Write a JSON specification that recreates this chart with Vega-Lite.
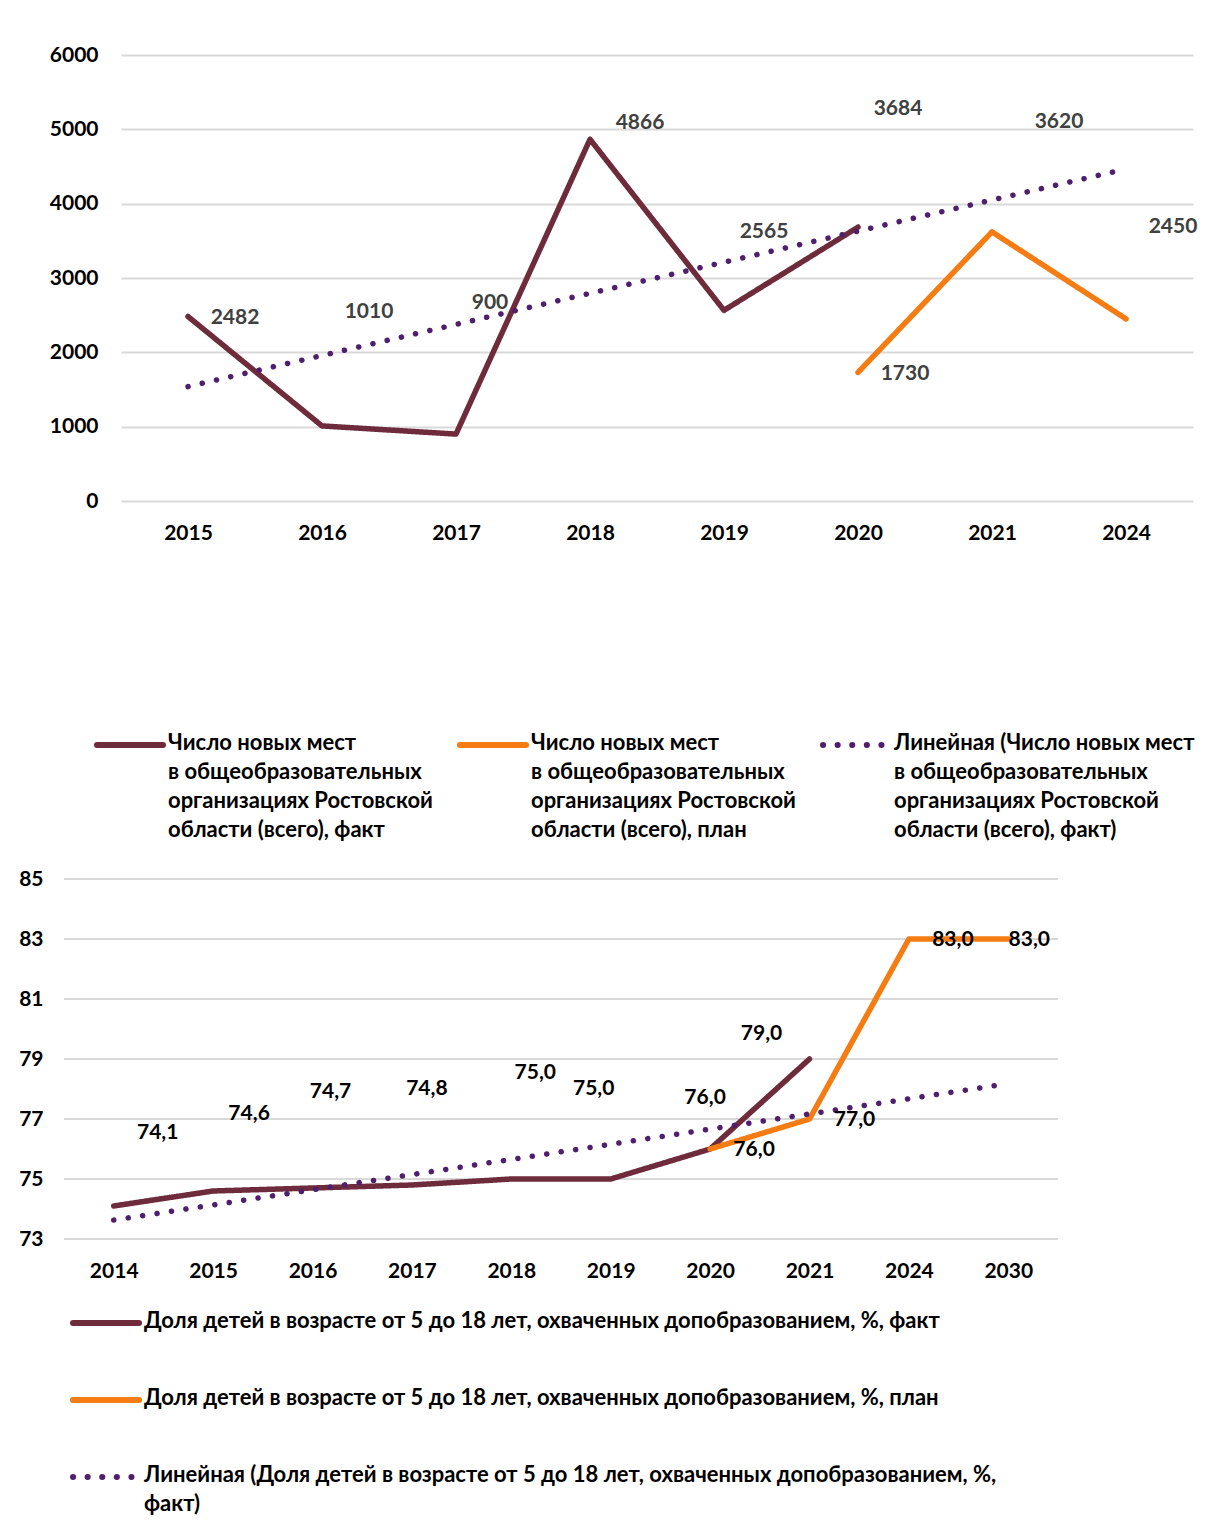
{
  "$schema": "https://vega.github.io/schema/vega-lite/v6.json",
  "padding": {"left": 18, "top": 44, "right": 0, "bottom": 0},
  "columns": 1,
  "spacing": 27,
  "resolve": {"scale": {"color": "independent", "strokeDash": "independent"}, "legend": {"color": "independent"}},
  "config": {
    "font": "Lato",
    "view": {"stroke": null},
    "locale": {"number": {"decimal": ",", "thousands": "", "grouping": [3], "currency": ["", ""]}},
    "text": {"fontSize": 21, "fontWeight": "bold", "color": "#404040", "font": "Lato"},
    "axis": {"labelFont": "Lato", "labelFontSize": 21, "labelFontWeight": "bold", "labelColor": "#000000", "title": null, "ticks": false, "gridColor": "#D9D9D9", "gridWidth": 2, "domain": false},
    "legend": {"labelFont": "Lato", "labelFontSize": 22, "labelFontWeight": "bold", "labelColor": "#000000", "symbolType": "stroke", "symbolSize": 4356, "symbolStrokeWidth": 6, "labelOffset": 2, "labelLimit": 1100, "padding": 0, "title": null}
  },
  "concat": [
    {
      "width": 1072,
      "height": 446,
      "data": {"values": [
        {"s": "fact", "year": "2015", "value": 2482},
        {"s": "fact", "year": "2016", "value": 1010},
        {"s": "fact", "year": "2017", "value": 900},
        {"s": "fact", "year": "2018", "value": 4866},
        {"s": "fact", "year": "2019", "value": 2565},
        {"s": "fact", "year": "2020", "value": 3684},
        {"s": "plan", "year": "2020", "value": 1730},
        {"s": "plan", "year": "2021", "value": 3620},
        {"s": "plan", "year": "2024", "value": 2450},
        {"s": "trend", "year": "2015", "value": 1539},
        {"s": "trend", "year": "2024", "value": 4467}
      ]},
      "encoding": {
        "x": {"field": "year", "type": "ordinal", "scale": {"type": "point", "padding": 0.5, "domain": ["2015", "2016", "2017", "2018", "2019", "2020", "2021", "2024"]}, "axis": {"labelAngle": 0, "labelPadding": 21, "grid": false}},
        "y": {"field": "value", "type": "quantitative", "scale": {"domain": [0, 6000]}, "axis": {"values": [0, 1000, 2000, 3000, 4000, 5000, 6000], "format": "d", "labelPadding": 23, "grid": true}}
      },
      "layer": [
        {
          "mark": {"type": "line", "strokeWidth": 5.5, "strokeCap": "round", "strokeJoin": "round"},
          "encoding": {
            "color": {"field": "s", "type": "nominal", "scale": {"domain": ["fact", "plan", "trend"], "range": ["#6E2B3C", "#F57C12", "#4F1F6E"]},
              "legend": {"orient": "none", "legendX": -27, "legendY": 654, "direction": "horizontal", "columns": 3, "columnPadding": 15, "labelBaseline": "top",
                "encode": {"labels": {"update": {"lineHeight": {"value": 29}, "dy": {"value": -12}}}, "symbols": {"update": {"strokeCap": {"value": "round"}}}},
                "labelExpr": "datum.value == 'fact' ? ['Число новых мест', 'в общеобразовательных', 'организациях Ростовской', 'области (всего), факт'] : datum.value == 'plan' ? ['Число новых мест', 'в общеобразовательных', 'организациях Ростовской', 'области (всего), план'] : ['Линейная (Число новых мест', 'в общеобразовательных', 'организациях Ростовской', 'области (всего), факт)']"}},
            "strokeDash": {"field": "s", "type": "nominal", "scale": {"domain": ["fact", "plan", "trend"], "range": [[1, 0], [1, 0], [0.1, 14.5]]}, "legend": null}
          }
        },
        {"transform": [{"filter": "datum.s == 'fact' && datum.year == '2015'"}], "mark": {"type": "text", "dx": 47, "dy": 1}, "encoding": {"text": {"field": "value", "format": "d"}}},
        {"transform": [{"filter": "datum.s == 'fact' && datum.year == '2016'"}], "mark": {"type": "text", "dx": 47, "dy": -114}, "encoding": {"text": {"field": "value", "format": "d"}}},
        {"transform": [{"filter": "datum.s == 'fact' && datum.year == '2017'"}], "mark": {"type": "text", "dx": 34, "dy": -131}, "encoding": {"text": {"field": "value", "format": "d"}}},
        {"transform": [{"filter": "datum.s == 'fact' && datum.year == '2018'"}], "mark": {"type": "text", "dx": 50, "dy": -16}, "encoding": {"text": {"field": "value", "format": "d"}}},
        {"transform": [{"filter": "datum.s == 'fact' && datum.year == '2019'"}], "mark": {"type": "text", "dx": 40, "dy": -78}, "encoding": {"text": {"field": "value", "format": "d"}}},
        {"transform": [{"filter": "datum.s == 'fact' && datum.year == '2020'"}], "mark": {"type": "text", "dx": 40, "dy": -118}, "encoding": {"text": {"field": "value", "format": "d"}}},
        {"transform": [{"filter": "datum.s == 'plan' && datum.year == '2020'"}], "mark": {"type": "text", "dx": 47, "dy": 2}, "encoding": {"text": {"field": "value", "format": "d"}}},
        {"transform": [{"filter": "datum.s == 'plan' && datum.year == '2021'"}], "mark": {"type": "text", "dx": 67, "dy": -110}, "encoding": {"text": {"field": "value", "format": "d"}}},
        {"transform": [{"filter": "datum.s == 'plan' && datum.year == '2024'"}], "mark": {"type": "text", "dx": 47, "dy": -92}, "encoding": {"text": {"field": "value", "format": "d"}}}
      ]
    },
    {
      "width": 937,
      "height": 360,
      "data": {"values": [
        {"s": "fact", "year": "2014", "value": 74.1},
        {"s": "fact", "year": "2015", "value": 74.6},
        {"s": "fact", "year": "2016", "value": 74.7},
        {"s": "fact", "year": "2017", "value": 74.8},
        {"s": "fact", "year": "2018", "value": 75.0},
        {"s": "fact", "year": "2019", "value": 75.0},
        {"s": "fact", "year": "2020", "value": 76.0},
        {"s": "fact", "year": "2021", "value": 79.0},
        {"s": "plan", "year": "2020", "value": 76.0},
        {"s": "plan", "year": "2021", "value": 77.0},
        {"s": "plan", "year": "2024", "value": 83.0},
        {"s": "plan", "year": "2030", "value": 83.0},
        {"s": "trend", "year": "2014", "value": 73.63},
        {"s": "trend", "year": "2030", "value": 78.18}
      ]},
      "encoding": {
        "x": {"field": "year", "type": "ordinal", "scale": {"type": "point", "padding": 0.5, "range": [-57, 937], "domain": ["2014", "2015", "2016", "2017", "2018", "2019", "2020", "2021", "2024", "2030"]}, "axis": {"labelAngle": 0, "labelPadding": 21, "grid": false}},
        "y": {"field": "value", "type": "quantitative", "scale": {"domain": [73, 85], "zero": false}, "axis": {"values": [73, 75, 77, 79, 81, 83, 85], "format": "d", "labelPadding": 21, "offset": 57, "grid": false}}
      },
      "layer": [
        {
          "data": {"values": [{"g": 73}, {"g": 75}, {"g": 77}, {"g": 79}, {"g": 81}, {"g": 83}, {"g": 85}]},
          "mark": {"type": "rule", "color": "#D9D9D9", "strokeWidth": 2, "xOffset": -49.7, "x2Offset": 49.7},
          "encoding": {
            "x": {"datum": "2014", "type": "ordinal"},
            "x2": {"datum": "2030"},
            "y": {"field": "g", "type": "quantitative"}
          }
        },
        {
          "mark": {"type": "line", "strokeWidth": 5.5, "strokeCap": "round", "strokeJoin": "round"},
          "encoding": {
            "color": {"field": "s", "type": "nominal", "scale": {"domain": ["fact", "plan", "trend"], "range": ["#6E2B3C", "#F57C12", "#4F1F6E"]},
              "legend": {"orient": "none", "legendX": -51, "legendY": 408, "direction": "vertical", "columns": 1, "rowPadding": 29, "labelBaseline": "top",
                "encode": {"labels": {"update": {"lineHeight": {"value": 29}, "dy": {"value": -12}}}, "symbols": {"update": {"strokeCap": {"value": "round"}}}},
                "labelExpr": "datum.value == 'fact' ? 'Доля детей в возрасте от 5 до 18 лет, охваченных допобразованием, %, факт' : datum.value == 'plan' ? 'Доля детей в возрасте от 5 до 18 лет, охваченных допобразованием, %, план' : ['Линейная (Доля детей в возрасте от 5 до 18 лет, охваченных допобразованием, %,', 'факт)']"}},
            "strokeDash": {"field": "s", "type": "nominal", "scale": {"domain": ["fact", "plan", "trend"], "range": [[1, 0], [1, 0], [0.1, 14.5]]}, "legend": null}
          }
        },
        {"transform": [{"filter": "datum.s == 'fact' && datum.year == '2014'"}], "mark": {"type": "text", "dx": 44, "dy": -73, "color": "#000000"}, "encoding": {"text": {"field": "value", "format": ".1f"}}},
        {"transform": [{"filter": "datum.s == 'fact' && datum.year == '2015'"}], "mark": {"type": "text", "dx": 36, "dy": -77, "color": "#000000"}, "encoding": {"text": {"field": "value", "format": ".1f"}}},
        {"transform": [{"filter": "datum.s == 'fact' && datum.year == '2016'"}], "mark": {"type": "text", "dx": 18, "dy": -96, "color": "#000000"}, "encoding": {"text": {"field": "value", "format": ".1f"}}},
        {"transform": [{"filter": "datum.s == 'fact' && datum.year == '2017'"}], "mark": {"type": "text", "dx": 15, "dy": -96, "color": "#000000"}, "encoding": {"text": {"field": "value", "format": ".1f"}}},
        {"transform": [{"filter": "datum.s == 'fact' && datum.year == '2018'"}], "mark": {"type": "text", "dx": 24, "dy": -106, "color": "#000000"}, "encoding": {"text": {"field": "value", "format": ".1f"}}},
        {"transform": [{"filter": "datum.s == 'fact' && datum.year == '2019'"}], "mark": {"type": "text", "dx": -17, "dy": -90, "color": "#000000"}, "encoding": {"text": {"field": "value", "format": ".1f"}}},
        {"transform": [{"filter": "datum.s == 'fact' && datum.year == '2020'"}], "mark": {"type": "text", "dx": -5, "dy": -51, "color": "#000000"}, "encoding": {"text": {"field": "value", "format": ".1f"}}},
        {"transform": [{"filter": "datum.s == 'fact' && datum.year == '2021'"}], "mark": {"type": "text", "dx": -48, "dy": -25, "color": "#000000"}, "encoding": {"text": {"field": "value", "format": ".1f"}}},
        {"transform": [{"filter": "datum.s == 'plan' && datum.year == '2020'"}], "mark": {"type": "text", "dx": 44, "dy": 1, "color": "#000000"}, "encoding": {"text": {"field": "value", "format": ".1f"}}},
        {"transform": [{"filter": "datum.s == 'plan' && datum.year == '2021'"}], "mark": {"type": "text", "dx": 45, "dy": 1, "color": "#000000"}, "encoding": {"text": {"field": "value", "format": ".1f"}}},
        {"transform": [{"filter": "datum.s == 'plan' && datum.year == '2024'"}], "mark": {"type": "text", "dx": 44, "dy": 1, "color": "#000000"}, "encoding": {"text": {"field": "value", "format": ".1f"}}},
        {"transform": [{"filter": "datum.s == 'plan' && datum.year == '2030'"}], "mark": {"type": "text", "dx": 21, "dy": 1, "color": "#000000"}, "encoding": {"text": {"field": "value", "format": ".1f"}}}
      ]
    }
  ]
}
